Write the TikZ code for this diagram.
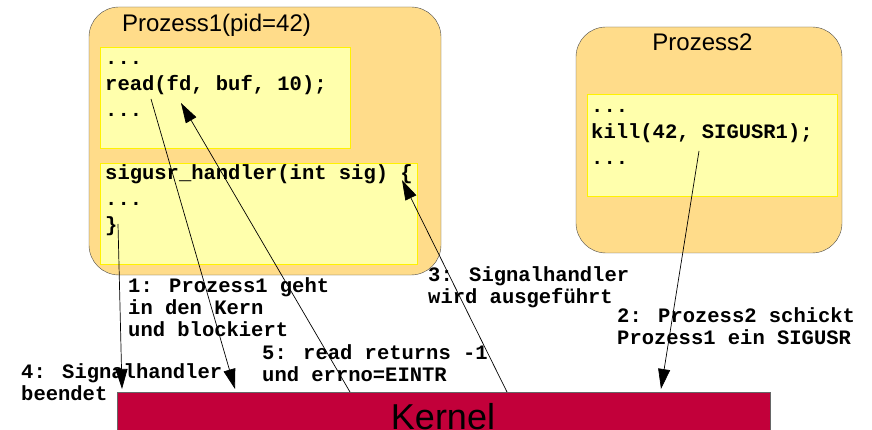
\documentclass[tikz,border=0pt]{standalone}
\usepackage{fontspec}
\setmainfont{Liberation Sans}
\newfontfamily\codefont{Liberation Mono}
\usetikzlibrary{
    arrows.meta,
    positioning,
}
\definecolor{procfill}{RGB}{255,220,138}
\definecolor{codefill}{RGB}{255,255,172}
\definecolor{kernfill}{RGB}{194,0,58}

\begin{document}
\begin{tikzpicture}[
        x=1pt, y=-1pt,
        >={Triangle[length=20pt,width=12pt]},
        proc/.style={rectangle, rounded corners=30pt, draw=black!70, fill=procfill, inner sep=0pt},
        codebox/.style={rectangle, draw=yellow, fill=codefill, inner sep=0pt},
        code/.style={font=\codefont\bfseries\fontsize{20.5}{26}\selectfont, align=left, inner sep=0pt, anchor=base west},
        steptext/.style={font=\codefont\bfseries\fontsize{20.5}{22}\selectfont, align=left, inner sep=0pt, anchor=base west},
        title/.style={font=\fontsize{24}{28}\selectfont, inner sep=0pt, anchor=base},
        kern/.style={rectangle, draw=black!60, fill=kernfill, inner sep=0pt},
        flow/.style={->, line width=0.7pt},
        ]
        \useasboundingbox (0,0) rectangle (872,430);
        % processes
        \node[proc, minimum width=352pt, minimum height=268pt] (P1) at (265,141) {};
        \node[proc, minimum width=266pt, minimum height=226pt] (P2) at (709,140) {};
        \node[title] (P1title) at (216.5,32) {Prozess1(pid=42)};
        \node[title] (P2title) at (702.5,51) {Prozess2};
        % code blocks (base = last line)
        \node[codebox, minimum width=250pt, minimum height=101pt] (readbox) at (225,97.5) {};
        \node[codebox, minimum width=317pt, minimum height=101pt] (handlerbox) at (258.5,213.5) {};
        \node[codebox, minimum width=250pt, minimum height=102pt] (killbox) at (712,145) {};
        \node[code] (readcode) at (105,117) {...\\read(fd, buf, 10);\\...};
        \node[code] (handlercode) at (105,232) {sigusr\_handler(int sig) \{\\...\\\}};
        \node[code] (killcode) at (591,165) {...\\kill(42, SIGUSR1);\\...};
        % kernel
        \node[kern, minimum width=653pt, minimum height=50pt] (kernel) at (443.5,417) {};
        \node[title, font=\fontsize{36}{40}\selectfont] (kerneltext) at (443,429) {Kernel};
        % step labels
        \node[steptext] (s1) at (128,336) {1: Prozess1 geht\\in den Kern\\und blockiert};
        \node[steptext] (s2) at (617,344) {2: Prozess2 schickt\\Prozess1 ein SIGUSR};
        \node[steptext] (s3) at (428,303) {3: Signalhandler\\wird ausgeführt};
        \node[steptext] (s4) at (21,400) {4: Signalhandler\\beendet};
        \node[steptext] (s5) at (262,381) {5: read returns -1\\und errno=EINTR};
        % arrow ends
        \coordinate (readcall) at (151,99);
        \coordinate (readret) at (181,103);
        \coordinate (handlerin) at (402,180);
        \coordinate (handlerout) at (118,224);
        \coordinate (killcall) at (699,151);
        \coordinate (k1) at (235,389);
        \coordinate (k2) at (661,389);
        \coordinate (k3) at (507,392);
        \coordinate (k4) at (122,389);
        \coordinate (k5) at (350,392);
        \draw[flow] (readcall) -- (k1);
        \draw[flow] (killcall) -- (k2);
        \draw[flow] (k3) -- (handlerin);
        \draw[flow] (handlerout) -- (k4);
        \draw[flow] (k5) -- (readret);
    \end{tikzpicture}
\end{document}
